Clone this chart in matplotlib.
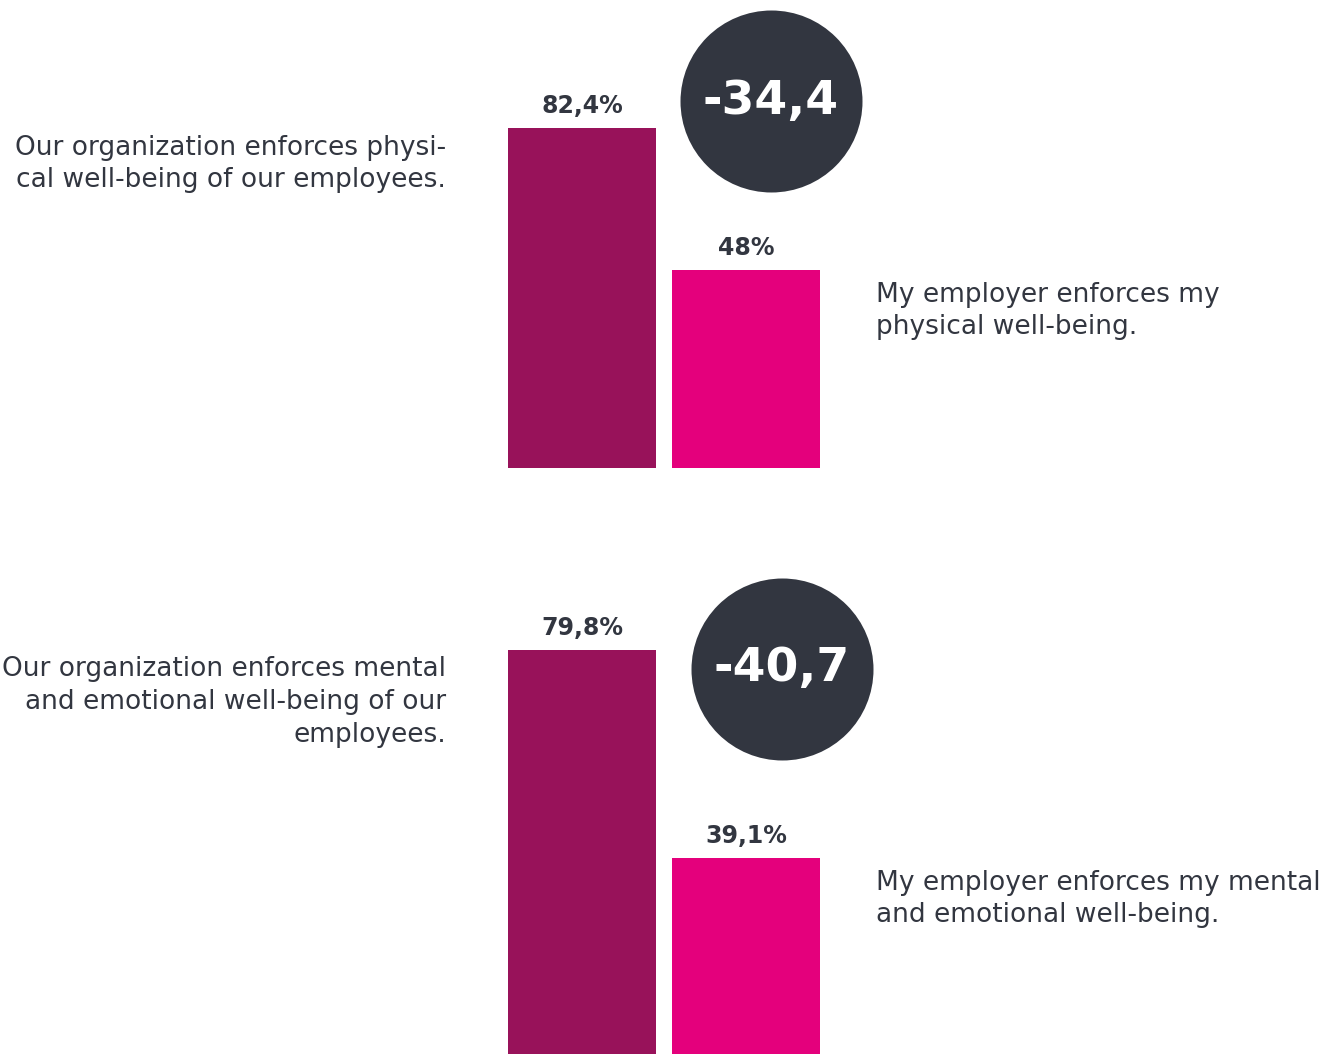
import matplotlib
matplotlib.use("Agg")
import matplotlib.pyplot as plt

# Datos de las dos comparaciones (organización vs. empleado)
org_labels = [
    "Our organization enforces physi-\ncal well-being of our employees.",
    "Our organization enforces mental\nand emotional well-being of our\nemployees.",
]
emp_labels = [
    "My employer enforces my\nphysical well-being.",
    "My employer enforces my mental\nand emotional well-being.",
]
org_values = [82.4, 79.8]
emp_values = [48.0, 39.1]

COL_ORG = "#98125A"
COL_EMP = "#E4007C"
COL_DARK = "#323640"

W, H = 1338, 1054
plt.rcParams["font.family"] = ["DejaVu Sans"]
fig = plt.figure(figsize=(W / 100, H / 100), dpi=100)


def fig_rect(left, top, right, bottom):
    # rectángulo en píxeles (origen arriba a la izquierda) -> fracciones de figura
    return [left / W, 1 - bottom / H, (right - left) / W, (bottom - top) / H]


def fmt(v):
    s = f"{v:.1f}".rstrip("0").rstrip(".")
    return s.replace(".", ",")


# posición de cada panel: (arriba, base, escala px por %)
panels = [(0, 468, 4.126), (560, 1059, 5.13)]
# desplazamiento del círculo respecto a la barra izquierda (x en unidades, y en px)
circle_off = [(1.152, 27), (1.22, -19)]

for i, (top, base, scale) in enumerate(panels):
    ax = fig.add_axes(fig_rect(508, top, 820, base))
    ax.set_xlim(-0.451, 1.451)
    ax.set_ylim(0, (base - top) / scale)
    ax.axis("off")

    vals = [org_values[i], emp_values[i]]
    ax.bar([0, 1], vals, width=0.9024, color=[COL_ORG, COL_EMP], clip_on=False)
    for x, v in zip([0, 1], vals):
        ax.text(x, v + 15 / scale, fmt(v) + "%", ha="center", va="baseline",
                fontsize=17, fontweight="bold", color=COL_DARK)

    # círculo con la diferencia
    diff = emp_values[i] - org_values[i]
    cx = circle_off[i][0]
    cy = vals[0] + circle_off[i][1] / scale
    ax.scatter([cx], [cy], s=(2 * 91 * 0.72) ** 2, color=COL_DARK, zorder=3,
               clip_on=False, linewidths=0)
    ax.text(cx, cy, "-" + fmt(abs(diff)), ha="center", va="center",
            fontsize=34, fontweight="bold", color="white", zorder=4)

# etiquetas de texto a los lados
left_y = [164, 702]
right_y = [311, 899]
for i in range(2):
    fig.text(446 / W, 1 - left_y[i] / H, org_labels[i], ha="right", va="center",
             fontsize=19, color=COL_DARK, linespacing=1.33)
    fig.text(876 / W, 1 - right_y[i] / H, emp_labels[i], ha="left", va="center",
             fontsize=19, color=COL_DARK, linespacing=1.33)

fig.savefig("out.png", dpi=100, facecolor="white")
